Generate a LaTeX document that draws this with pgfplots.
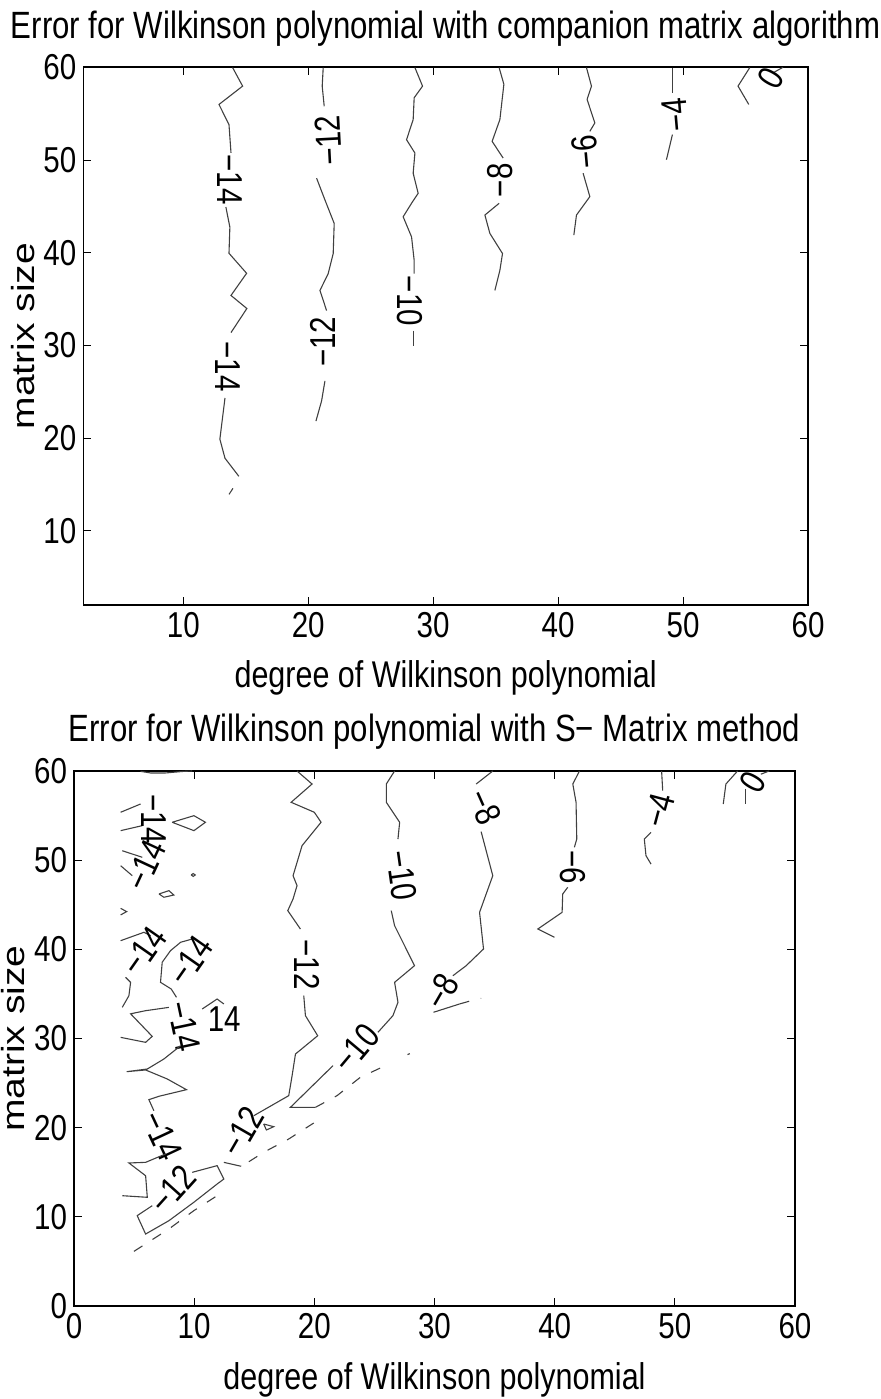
\documentclass[border=0pt]{standalone}
\usepackage{fontspec}
\setmainfont[FakeStretch=0.82]{Liberation Sans}
\newfontfamily\plainfont{Liberation Sans}
\usepackage{graphicx}
\usepackage{pgfplots}
\pgfplotsset{compat=1.18}
\tikzset{lab/.style={font=\fontsize{18}{20}\selectfont, inner sep=0pt}}
\begin{document}
\begin{tikzpicture}
\useasboundingbox (0pt,0pt) rectangle (440.5pt,699.5pt);
\pgfplotsset{
  every axis/.append style={
    scale only axis, anchor=south west,
    axis line style={black, line width=0.8pt},
    tick style={black, line width=0.5pt},
    tick align=inside, major tick length=4pt,
    tick label style={font=\fontsize{18}{20}\selectfont},
    /pgf/number format/assume math mode=true,
    xlabel={degree of Wilkinson polynomial},
    ylabel={\scalebox{1}[0.82]{matrix size}},
    every axis x label/.style={at={(axis description cs:0.5,0)}, anchor=base, yshift=-41.5pt, font=\fontsize{18.6}{20}\selectfont},
    every axis title/.style={at={(axis description cs:0.5,1)}, anchor=base, yshift=14.5pt, font=\fontsize{19}{21}\selectfont},
  },
  cl/.style={black!75, line width=0.55pt, mark=none},
  dl/.style={black!75, line width=0.55pt, mark=none, dash pattern=on 5pt off 6pt},
}
% ---------------- top axis ----------------
\begin{axis}[at={(41.65pt,397pt)}, width=362.35pt, height=268.85pt,
  xmin=2, xmax=60, ymin=2, ymax=60,
  xtick={10,20,...,60}, ytick={10,20,...,60},
  every axis y label/.style={at={(axis description cs:0,0.5)}, rotate=90, anchor=center, yshift=30pt, font=\fontsize{19.5}{21}\plainfont},
  title={Error for Wilkinson polynomial with companion matrix algorithm}]
% -14
\addplot[cl] coordinates {(13.95,59.97)(14.75,57.97)(12.86,55.99)(13.66,53.82)(13.82,50.78)};
\addplot[cl] coordinates {(13.41,44.93)(13.73,42.76)(13.66,39.94)(15.07,37.78)(13.82,35.39)(15.09,33.98)(13.82,31.38)};
\addplot[cl] coordinates {(13.34,24.33)(12.93,19.89)(13.34,17.83)(14.45,15.88)};
\addplot[cl] coordinates {(13.98,14.58)(13.66,13.93)};
\node[lab, rotate=-90] at (axis cs:13.72,47.9) {−14};
\node[lab, rotate=-90] at (axis cs:13.57,27.7) {−14};
% -12
\addplot[cl] coordinates {(21.2,59.97)(21.12,57.97)(21.28,55.80)};
\addplot[cl] coordinates {(20.67,48.04)(21.34,45.69)(22.08,43.16)(22.0,39.91)(21.6,37.74)(20.94,35.93)(21.47,33.76)};
\addplot[cl] coordinates {(21.34,26.17)(21.07,24.01)(20.62,21.84)};
\node[lab, rotate=93] at (axis cs:21.6,52.1) {−12};
\node[lab, rotate=90] at (axis cs:21.2,30.4) {−12};
% -10
\addplot[cl] coordinates {(28.54,59.97)(29.15,57.97)(28.48,56.71)(28.4,54.36)(27.87,52.19)(28.54,50.75)(28.4,48.58)(28.8,46.41)(28.27,45.33)(27.6,43.88)(28.27,41.71)(28.48,39.18)(28.48,37.74)};
\addplot[cl] coordinates {(28.4,31.6)(28.4,29.97)};
\node[lab, rotate=-90] at (axis cs:28.1,34.8) {−10};
% -8
\addplot[cl] coordinates {(35.28,59.97)(35.66,58.16)(35.34,54.36)(34.72,52.01)(35.6,50.21)};
\addplot[cl] coordinates {(35.28,45.33)(34.14,44.06)(34.54,42.08)(35.55,39.91)(35.34,38.10)(34.94,35.93)};
\node[lab, rotate=90] at (axis cs:35.34,47.8) {−8};
% -6
\addplot[cl] coordinates {(42.27,59.97)(42.67,57.97)(42.32,56.53)(42.94,54.00)(42.54,53.09)};
\addplot[cl] coordinates {(42.0,48.58)(42.54,46.05)(41.47,44.06)(41.26,41.90)};
\node[lab, rotate=95] at (axis cs:42.2,50.9) {−6};
% -4
\addplot[cl] coordinates {(49.15,59.97)(49.15,57.26)};
\addplot[cl] coordinates {(49.15,52.74)(48.67,50.03)};
\node[lab, rotate=95] at (axis cs:49.4,54.9) {−4};
% 0
\addplot[cl] coordinates {(55.34,59.97)(54.4,57.97)(55.26,55.99)};
\addplot[cl] coordinates {(57.2,59.4)(58.0,60)};
\node[lab, rotate=60] at (axis cs:57.0,58.8) {0};
\end{axis}
% ---------------- bottom axis ----------------
\begin{axis}[at={(37pt,46.5pt)}, width=360.5pt, height=267.5pt,
  xmin=0, xmax=60, ymin=0, ymax=60,
  xtick={0,10,...,60}, ytick={0,10,...,60},
  every axis y label/.style={at={(axis description cs:0,0.5)}, rotate=90, anchor=center, yshift=30.5pt, font=\fontsize{19.5}{21}\plainfont},
  title={Error for Wilkinson polynomial with S− Matrix method}]
% -12 upper
\addplot[cl] coordinates {(18.56,60)(19.81,58.54)(18.07,56.49)(20.0,55.37)(20.56,54.25)(18.98,51.63)(18.23,48.26)(18.56,47.14)(18.23,45.65)(17.79,44.34)(18.84,42.28)};
\addplot[cl] coordinates {(19.12,34.80)(19.26,32.56)(20.28,30.31)(18.43,28.26)(18.15,25.83)(17.87,23.59)(14.96,21.34)};
\addplot[cl] coordinates {(12.47,16.11)(13.91,15.67)};
\node[lab, rotate=-90] at (axis cs:19.4,38.3) {−12};
\node[lab, rotate=60] at (axis cs:14.0,19.6) {−12};
\addplot[cl] coordinates {(15.79,20.41)(16.62,20.11)(16.01,19.74)(15.79,20.41)};
% -12 lower
\addplot[cl] coordinates {(9.84,14.99)(11.91,15.74)(12.47,14.24)(11.91,13.68)(9.97,11.63)(7.90,9.57)(5.96,8.07)(5.26,10.13)(6.51,11.25)};
\node[lab, rotate=48] at (axis cs:8.2,13.1) {−12};
% -10
\addplot[cl] coordinates {(26.68,60)(25.99,58.54)(25.99,56.49)(27.10,54.25)(26.96,52.37)};
\addplot[cl] coordinates {(26.40,44.34)(26.68,42.65)(28.34,38.17)(26.68,36.30)(26.96,34.06)(26.54,32.56)(25.29,30.69)};
\addplot[cl] coordinates {(21.55,26.95)(18.01,22.28)(20.09,22.28)};
\node[lab, rotate=-82] at (axis cs:27.3,48.3) {−10};
\node[lab, rotate=50] at (axis cs:23.5,28.9) {−10};
% dashed pieces
\addplot[dl] coordinates {(4.99,6.13)(7.90,8.64)(9.97,10.69)(11.91,12.37)};
\addplot[dl] coordinates {(14.55,16.18)(15.79,17.24)(17.87,18.73)(19.95,20.52)};
\addplot[dl] coordinates {(20.09,22.28)(21.89,23.59)(23.83,25.65)(25.91,26.95)};
\addplot[cl] coordinates {(27.75,28.2)(27.95,28.3)};
\addplot[dl] coordinates {(32.08,33.87)(33.05,34.24)(33.88,34.50)};
% -8
\addplot[cl] coordinates {(34.85,60)(33.47,58.54)};
\addplot[cl] coordinates {(33.88,53.2)(34.85,48.26)(33.75,44.15)(34.08,40.04)(32.64,38.17)(31.53,37.04)};
\addplot[cl] coordinates {(29.92,32.94)(32.08,33.87)};
\node[lab, rotate=-66] at (axis cs:34.2,56.0) {−8};
\node[lab, rotate=60] at (axis cs:30.6,35.3) {−8};
% -6
\addplot[cl] coordinates {(42.06,60)(41.51,58.54)(41.78,56.49)(41.84,52.37)(41.64,51.44)};
\addplot[cl] coordinates {(41.09,46.96)(40.67,46.21)(40.62,44.15)(38.60,42.28)(39.98,41.35)};
\node[lab, rotate=-90] at (axis cs:41.5,49.2) {−6};
% -4
\addplot[cl] coordinates {(48.90,60)(48.99,57.79)};
\addplot[cl] coordinates {(48.02,53.12)(47.46,52.37)(47.60,50.50)(48.02,49.56)};
\node[lab, rotate=75] at (axis cs:48.7,55.6) {−4};
% 0
\addplot[cl] coordinates {(55.22,60)(54.25,58.54)(54.03,56.30)};
\addplot[cl] coordinates {(57.16,59.64)(57.85,60)};
\addplot[cl] coordinates {(55.91,58.0)(55.91,56.3)};
\node[lab, rotate=60] at (axis cs:56.5,58.7) {0};
% -14 region
\addplot[cl] coordinates {(5.54,59.96)(6.37,59.78)(7.62,59.78)(9.14,59.96)(9.84,60)};
\addplot[cl] coordinates {(3.88,55.37)(5.54,56.30)};
\addplot[cl] coordinates {(3.88,53.31)(5.68,53.87)};
\addplot[cl] coordinates {(4.02,51.06)(5.68,50.32)};
\addplot[cl] coordinates {(3.88,49.38)(4.85,48.26)};
\addplot[cl] coordinates {(3.88,44.6)(4.38,44.23)(3.88,43.86)};
\addplot[cl] coordinates {(8.17,54.25)(9.98,54.99)(10.94,54.25)(9.98,53.31)(8.17,54.25)};
\addplot[cl] coordinates {(9.75,48.34)(9.92,48.5)(10.09,48.34)(9.92,48.18)(9.75,48.34)};
\addplot[cl] coordinates {(7.07,46.21)(7.90,46.58)(8.31,46.09)(7.48,45.84)(7.07,46.21)};
\node[lab, rotate=-90] at (axis cs:6.65,54.6) {−14};
\node[lab, rotate=65] at (axis cs:5.96,49.4) {−14};
\addplot[cl] coordinates {(3.88,40.97)(5.82,41.91)(6.37,41.53)};
\node[lab, rotate=55] at (axis cs:5.82,39.8) {−14};
\addplot[cl] coordinates {(4.29,36.86)(4.71,36.30)(4.57,34.80)(4.02,33.50)};
\addplot[cl] coordinates {(9.84,41.16)(8.87,40.79)(8.03,39.85)(7.34,38.55)(7.20,36.30)(8.09,35.55)(8.53,34.62)};
\node[lab, rotate=55] at (axis cs:9.7,38.7) {−14};
\node[lab, rotate=-78] at (axis cs:9.14,31.4) {−14};
\node[lab] at (axis cs:12.5,32.2) {14};
\addplot[cl] coordinates {(10.67,33.31)(11.91,34.43)(12.47,33.87)};
\addplot[cl] coordinates {(3.88,30.13)(5.96,29.57)(6.51,30.24)(4.71,32.77)(5.96,33.12)(7.90,33.49)};
\addplot[cl] coordinates {(8.87,29.19)(7.48,27.70)(6.10,26.58)(4.38,26.28)(5.96,26.47)(7.76,25.46)(9.36,24.26)(7.07,23.52)(6.23,23.14)(6.65,21.90)};
\node[lab, rotate=-65] at (axis cs:7.34,19.1) {−14};
\addplot[cl] coordinates {(7.62,17.05)(5.96,16.11)(4.57,16.04)(5.96,14.61)(6.10,12.19)(4.02,12.37)};
\end{axis}
\end{tikzpicture}
\end{document}
